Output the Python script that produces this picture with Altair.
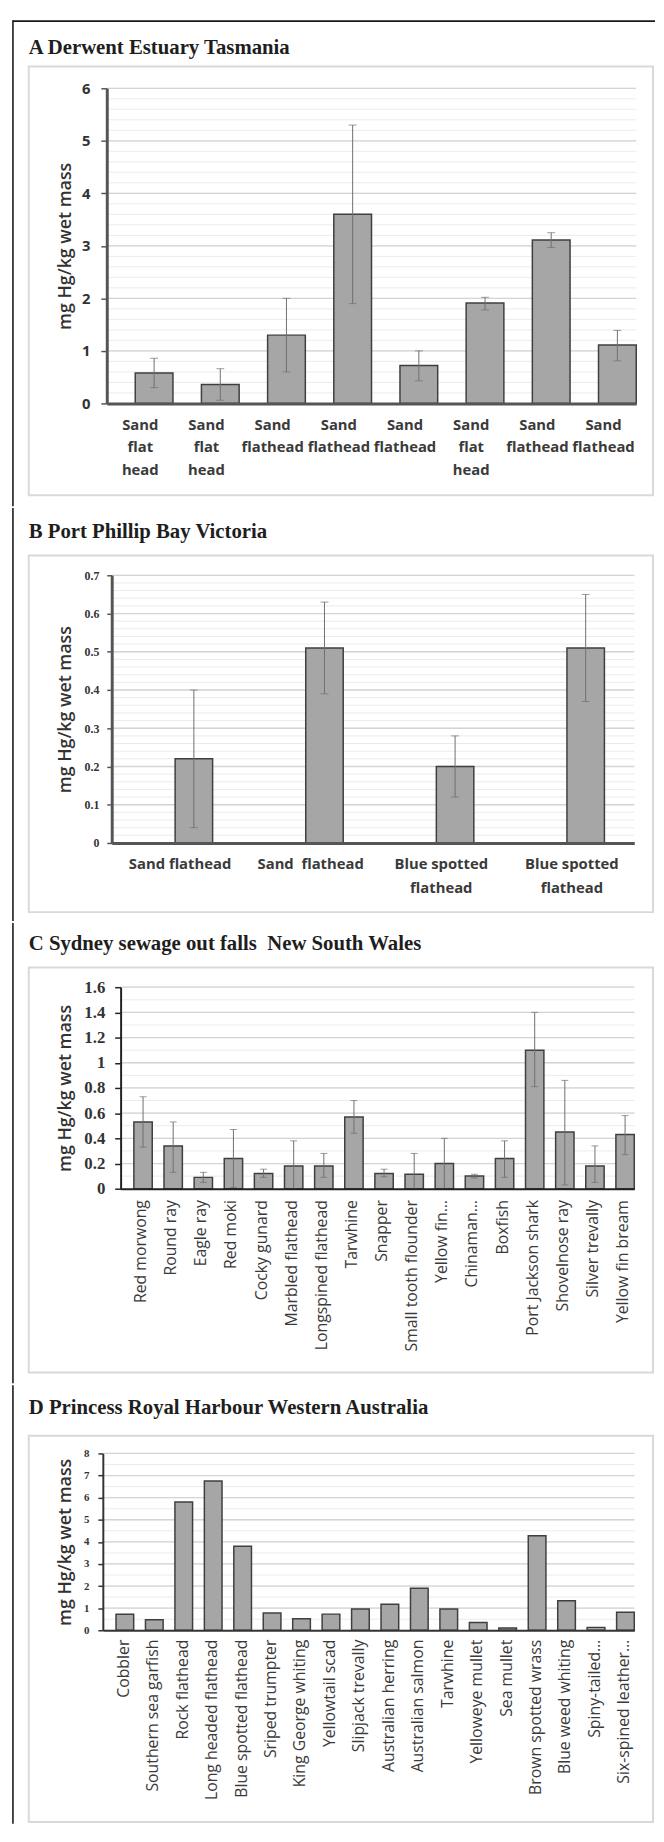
import json
import altair as alt
import pandas as pd

SANS = "Open Sans"
SERIF = "Liberation Serif"
YTITLE = "mg Hg/kg wet mass"

# ---------------- data ----------------
a_title = "A Derwent Estuary Tasmania"
a_labels = [["Sand", "flat", "head"], ["Sand", "flat", "head"], ["Sand", "flathead"], ["Sand", "flathead"],
            ["Sand", "flathead"], ["Sand", "flat", "head"], ["Sand", "flathead"], ["Sand", "flathead"]]
a_mean = [0.58, 0.36, 1.30, 3.60, 0.72, 1.91, 3.11, 1.11]
a_low = [0.30, 0.06, 0.60, 1.90, 0.43, 1.78, 2.97, 0.81]
a_high = [0.86, 0.66, 2.00, 5.30, 1.00, 2.02, 3.25, 1.39]
a_ticks = [0, 1, 2, 3, 4, 5, 6]

b_title = "B Port Phillip Bay Victoria"
b_labels = [["Sand flathead"], ["Sand\u00a0 flathead"], ["Blue spotted", "flathead"], ["Blue spotted", "flathead"]]
b_mean = [0.22, 0.51, 0.20, 0.51]
b_low = [0.04, 0.39, 0.12, 0.37]
b_high = [0.40, 0.63, 0.28, 0.65]
b_ticks = [0, 0.1, 0.2, 0.3, 0.4, 0.5, 0.6, 0.7]

c_title = "C Sydney sewage out falls\u00a0 New South Wales"
c_labels = ["Red morwong", "Round ray", "Eagle ray", "Red moki", "Cocky gunard", "Marbled flathead",
            "Longspined flathead", "Tarwhine", "Snapper", "Small tooth flounder", "Yellow fin\u2026",
            "Chinaman\u2026", "Boxfish", "Port Jackson shark", "Shovelnose ray", "Silver trevally",
            "Yellow fin bream"]
c_mean = [0.53, 0.34, 0.09, 0.24, 0.12, 0.18, 0.18, 0.57, 0.12, 0.115, 0.20, 0.10, 0.24, 1.10, 0.45, 0.18, 0.43]
c_low = [0.33, 0.13, 0.05, 0.01, 0.09, 0.0, 0.09, 0.44, 0.095, 0.0, 0.0, 0.085, 0.09, 0.81, 0.03, 0.05, 0.27]
c_high = [0.73, 0.53, 0.13, 0.47, 0.155, 0.38, 0.28, 0.70, 0.155, 0.28, 0.40, 0.115, 0.38, 1.40, 0.86, 0.34, 0.58]
c_ticks = [0, 0.2, 0.4, 0.6, 0.8, 1, 1.2, 1.4, 1.6]

d_title = "D Princess Royal Harbour Western Australia"
d_labels = ["Cobbler", "Southern sea garfish", "Rock flathead", "Long headed flathead", "Blue spotted flathead",
            "Sriped trumpter", "King George whiting", "Yellowtail scad", "Slipjack trevally",
            "Australian herring", "Australian salmon", "Tarwhine", "Yelloweye mullet", "Sea mullet",
            "Brown spotted wrass", "Blue weed whiting", "Spiny-tailed\u2026", "Six-spined leather\u2026"]
d_mean = [0.72, 0.48, 5.80, 6.75, 3.80, 0.78, 0.52, 0.73, 0.96, 1.18, 1.90, 0.96, 0.35, 0.10, 4.28, 1.33, 0.13, 0.81]
d_ticks = [0, 1, 2, 3, 4, 5, 6, 7, 8]


def steps(top, step):
    n = int(round(top / step))
    return [round(i * step, 4) for i in range(n + 1)]


# ---------------- layout / style per panel ----------------
PANELS = [
    dict(title=a_title, labels=a_labels, mean=a_mean, low=a_low, high=a_high, ticks=a_ticks,
         minor=steps(6, 0.2), P=108, T=77, W=536, H=319, pi=0.43, po=0.215, align=1.0,
         angle=0, xfont=15, xweight="bold", xlh=23, xpad=14, xoff=-14,
         cell=(8, 500), frame=(55, 489), tb=42,
         yfont=(SANS, 15, "bold"), ypad=11, tick=6, dw=3, dc="#555555", tx=66, cap=8),
    dict(title=b_title, labels=b_labels, mean=b_mean, low=b_low, high=b_high, ticks=b_ticks,
         minor=steps(0.7, 0.02), P=113, T=568, W=529, H=271, pi=0.713, po=0.357, align=0.68,
         angle=0, xfont=15, xweight="bold", xlh=24, xpad=14, xoff=-14,
         cell=(500, 918), frame=(548, 909), tb=530,
         yfont=(SERIF, 12, "bold"), ypad=8, tick=5, dw=3, dc="#555555", tx=66, cap=8),
    dict(title=c_title, labels=c_labels, mean=c_mean, low=c_low, high=c_high, ticks=c_ticks,
         minor=steps(1.6, 0.1), P=122, T=983, W=520, H=204, pi=0.39, po=0.22, align=1.0,
         angle=-90, xfont=16, xweight="normal", xlh=16, xpad=11, xoff=-2,
         cell=(918, 1384), frame=(963, 1373), tb=945,
         yfont=(SERIF, 17, "bold"), ypad=10, tick=6, dw=2, dc="#222222", tx=66, cap=7),
    dict(title=d_title, labels=d_labels, mean=d_mean, low=None, high=None, ticks=d_ticks,
         minor=steps(8, 0.5), P=104, T=1453, W=538, H=179, pi=0.40, po=0.224, align=1.0,
         angle=-90, xfont=16, xweight="normal", xlh=16, xpad=9, xoff=-1,
         cell=(1384, 1828), frame=(1435, 1826), tb=1413,
         yfont=(SERIF, 11, "bold"), ypad=9, tick=5, dw=2, dc="#333333", tx=66, cap=7),
]

one = pd.DataFrame({"k": [0]})


def make_panel(c, first):
    P, T, W, H = c["P"], c["T"], c["W"], c["H"]
    n = len(c["labels"])
    df = pd.DataFrame({"idx": list(range(n)), "mean": c["mean"]})
    if c["low"] is not None:
        df["low"] = c["low"]
        df["high"] = c["high"]
    ymax = c["ticks"][-1]
    yscale = alt.Scale(domain=[0, ymax], nice=False, zero=True)
    xscale = alt.Scale(paddingInner=c["pi"], paddingOuter=c["po"], align=c["align"])
    label_expr = json.dumps(c["labels"], ensure_ascii=False) + "[datum.value]"
    if c["angle"] == 0:
        la = dict(labelAngle=0, labelAlign="center", labelBaseline="top")
    else:
        la = dict(labelAngle=-90, labelAlign="right", labelBaseline="middle")
    xaxis = alt.Axis(title=None, labelExpr=label_expr, ticks=False, domainColor=c["dc"],
                     domainWidth=c["dw"], labelFont=SANS, labelFontSize=c["xfont"],
                     labelFontWeight=c["xweight"], labelColor="#3a3a3a", labelPadding=c["xpad"],
                     labelOffset=c["xoff"], labelLineHeight=c["xlh"], labelOverlap=False,
                     labelLimit=400, zindex=2, **la)
    yf = c["yfont"]
    yaxis = alt.Axis(title=YTITLE, values=c["ticks"], format="~g", grid=False,
                     domainColor=c["dc"], domainWidth=c["dw"], tickColor=c["dc"], tickWidth=1.5,
                     tickSize=c["tick"], labelFont=yf[0], labelFontSize=yf[1], labelFontWeight=yf[2],
                     labelColor="#333333", labelPadding=c["ypad"],
                     titleFont=SANS, titleFontSize=18, titleFontWeight=600, titleColor="#333333",
                     titleX=c["tx"] - P, titleY=H / 2, titleAngle=-90, titleAlign="center",
                     titleBaseline="middle", zindex=2)

    def X():
        return alt.X("idx:O", scale=xscale, axis=xaxis, sort=None, title=None)

    def Y(field):
        return alt.Y(field, scale=yscale, axis=yaxis, title=YTITLE)

    cell = alt.Chart(one).mark_rect(fill="white", opacity=0).encode(
        x=alt.value(9 - P), x2=alt.value(663 - P),
        y=alt.value(c["cell"][0] - T), y2=alt.value(c["cell"][1] - T))
    frame = alt.Chart(one).mark_rect(fill="white", stroke="#d9d9d9", strokeWidth=2).encode(
        x=alt.value(29 - P), x2=alt.value(661 - P),
        y=alt.value(c["frame"][0] - T), y2=alt.value(c["frame"][1] - T))
    gminor = alt.Chart(pd.DataFrame({"v": c["minor"]})).mark_rule(
        color="#ebebeb", strokeWidth=1).encode(y=Y("v:Q"))
    gmajor = alt.Chart(pd.DataFrame({"v": c["ticks"][1:]})).mark_rule(
        color="#d4d4d4", strokeWidth=1.3).encode(y=Y("v:Q"))
    bars = alt.Chart(df).mark_bar(fill="#a6a6a6", stroke="#3f3f3f", strokeWidth=1.5).encode(
        x=X(), y=Y("mean:Q"))
    layers = [cell, frame, gminor, gmajor, bars]
    if c["low"] is not None:
        err = alt.Chart(df).mark_rule(color="#6f6f6f", strokeWidth=1).encode(
            x=X(), y=Y("low:Q"), y2="high:Q")
        cap_hi = alt.Chart(df).mark_tick(color="#6f6f6f", thickness=1, size=c["cap"],
                                         orient="horizontal").encode(x=X(), y=Y("high:Q"))
        cap_lo = alt.Chart(df).mark_tick(color="#6f6f6f", thickness=1, size=c["cap"],
                                         orient="horizontal").encode(x=X(), y=Y("low:Q"))
        layers += [err, cap_hi, cap_lo]
    left_line = alt.Chart(one).mark_rule(color="#1a1a1a", strokeWidth=1.6, strokeCap="square").encode(
        x=alt.value(13 - P), y=alt.value(c["cell"][0] - T + 0.8), y2=alt.value(c["cell"][1] - T - 0.8))
    layers.append(left_line)
    if first:
        top_line = alt.Chart(one).mark_rule(color="#1a1a1a", strokeWidth=2).encode(
            x=alt.value(13 - P), x2=alt.value(663 - P), y=alt.value(9 - T))
        layers.append(top_line)
    title = alt.Chart(one).mark_text(align="left", baseline="alphabetic", font=SERIF, fontSize=21,
                                     fontWeight="bold", color="#1e1e1e").encode(
        x=alt.value(29 - P), y=alt.value(c["tb"] - T), text=alt.value(c["title"]))
    layers.append(title)
    panel = alt.layer(*layers).properties(width=W, height=H)
    spacer = alt.Chart(one).mark_rect(opacity=0).encode(
        x=alt.value(0), x2=alt.value(1), y=alt.value(0), y2=alt.value(1)).properties(width=1, height=1)
    return alt.hconcat(spacer, panel, spacing=0)


rows = [make_panel(c, i == 0) for i, c in enumerate(PANELS)]
chart = alt.vconcat(*rows, spacing=0).properties(padding=0, background="white").configure_view(stroke=None)
chart.save("out.html", embed_options={"renderer": "svg", "actions": False})
